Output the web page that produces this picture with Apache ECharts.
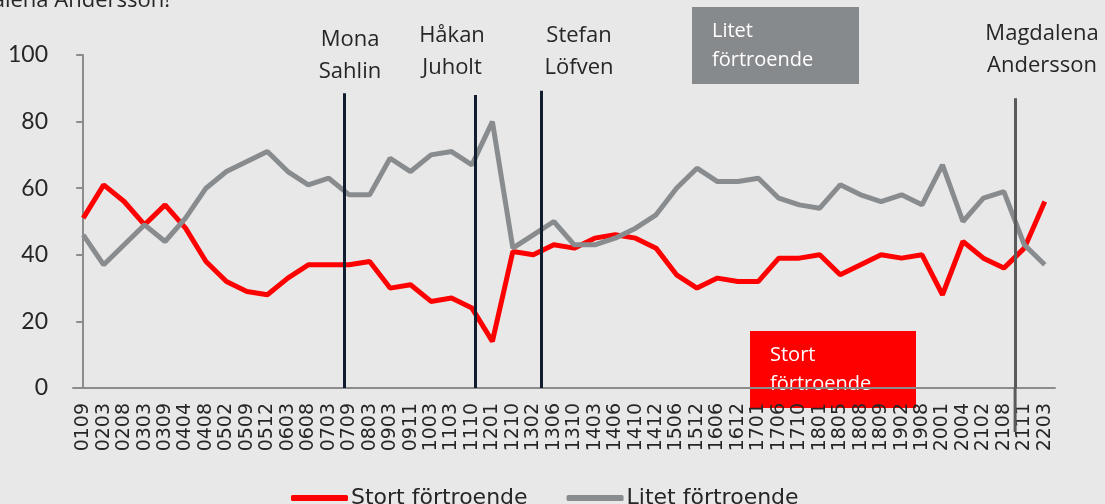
<!DOCTYPE html>
<html>
<head>
<meta charset="utf-8">
<script src="https://cdn.jsdelivr.net/npm/echarts@6/dist/echarts.min.js"></script>
<style>
  html, body { margin: 0; padding: 0; background: #e8e8e8; }
  #chart { width: 1105px; height: 504px; }
</style>
</head>
<body>
<div id="chart"></div>
<script>
// mätperioder (ååmm)
var perioder = ['0109','0203','0208','0303','0309','0404','0408','0502','0509','0512',
  '0603','0608','0703','0709','0803','0903','0911','1003','1103','1110',
  '1201','1210','1302','1306','1310','1403','1406','1410','1412','1506',
  '1512','1606','1612','1701','1706','1710','1801','1805','1808','1809',
  '1902','1908','2001','2004','2102','2108','2111','2203'];

var stort = [51,61,56,49,55,48,38,32,29,28,
  33,37,37,37,38,30,31,26,27,24,
  14,41,40,43,42,45,46,45,42,34,
  30,33,32,32,39,39,40,34,37,40,
  39,40,28,44,39,36,42,56];

var litet = [46,37,43,49,44,51,60,65,68,71,
  65,61,63,58,58,69,65,70,71,67,
  80,42,46,50,43,43,45,48,52,60,
  66,62,62,63,57,55,54,61,58,56,
  58,55,67,50,57,59,43,37];

// partiledarbyten, läge mellan perioder (index)
var byten = [
  { namn: 'Mona\nSahlin', x: 12.75, top: 88.5, farg: '#111d2e' },
  { namn: 'Håkan\nJuholt', x: 19.15, top: 88, farg: '#111d2e' },
  { namn: 'Stefan\nLöfven', x: 22.38, top: 89.3, farg: '#111d2e' },
  { namn: 'Magdalena\nAndersson', x: 45.55, top: 87, farg: '#5a5a5a' }
];

var chart = echarts.init(document.getElementById('chart'));

var markData = byten.map(function (b) {
  return [
    { coord: [b.x, b.top], lineStyle: { color: b.farg } },
    { coord: [b.x, 0] }
  ];
});

var textStyle = { fontFamily: 'Open Sans', fontSize: 22, fill: '#262626', textAlign: 'center', lineHeight: 32 };

chart.setOption({
  backgroundColor: '#e8e8e8',
  animation: false,
  textStyle: { fontFamily: 'DejaVu Sans' },
  grid: { left: 73, right: 50, top: 55, bottom: 116 },
  legend: {
    top: 482,
    left: 286,
    itemWidth: 57,
    itemHeight: 6,
    itemGap: 39,
    icon: 'roundRect',
    textStyle: { fontSize: 22, color: '#262626', fontFamily: 'DejaVu Sans', padding: [0, 0, 0, -2] },
    data: ['Stort förtroende', 'Litet förtroende']
  },
  xAxis: [{
    type: 'category',
    data: perioder,
    boundaryGap: true,
    axisLine: { lineStyle: { color: '#8c8c8c', width: 2 } },
    axisTick: { interval: 0, length: 7, lineStyle: { color: '#8c8c8c', width: 2 } },
    axisLabel: { interval: 0, rotate: 90, fontSize: 19, color: '#262626', margin: 15, fontFamily: 'DejaVu Sans' }
  }, {
    type: 'value',
    min: -0.5,
    max: 47.5,
    show: false
  }],
  yAxis: {
    type: 'value',
    min: 0,
    max: 100,
    interval: 20,
    splitLine: { show: false },
    axisLine: { show: true, lineStyle: { color: '#8c8c8c', width: 2 } },
    axisTick: { show: true, length: 7, lineStyle: { color: '#8c8c8c', width: 2 } },
    axisLabel: { fontSize: 23, color: '#262626', margin: 25, fontFamily: 'Lato' }
  },
  series: [{
    name: 'Stort förtroende',
    type: 'line',
    data: stort,
    symbol: 'none',
    color: '#ff0000',
    lineStyle: { width: 5, color: '#ff0000' },
    z: 2
  }, {
    name: 'Litet förtroende',
    type: 'line',
    data: litet,
    symbol: 'none',
    color: '#898c8e',
    lineStyle: { width: 5, color: '#898c8e' },
    z: 2
  }, {
    name: 'byten',
    type: 'line',
    xAxisIndex: 1,
    data: [],
    clip: false,
    z: 5,
    markLine: {
      silent: true,
      symbol: 'none',
      label: { show: false },
      lineStyle: { type: 'solid', width: 3 },
      data: markData
    }
  }]
});

// Magdalena-linjen fortsätter under x-axeln
var sista = byten[3];
var p0 = chart.convertToPixel({ xAxisIndex: 1, yAxisIndex: 0 }, [sista.x, 0]);

chart.setOption({
  graphic: [
    { type: 'line', z: 10, shape: { x1: p0[0], y1: p0[1], x2: p0[0], y2: p0[1] + 44 }, style: { stroke: sista.farg, lineWidth: 3 } },
    { type: 'text', x: 170, y: 12, z: 10, style: { text: 'Magdalena Andersson!', fontFamily: 'Open Sans', fontSize: 22, fill: '#262626', textAlign: 'right', textVerticalAlign: 'bottom' } },
    { type: 'text', x: 350, y: 24, z: 10, style: Object.assign({ text: byten[0].namn }, textStyle) },
    { type: 'text', x: 452, y: 20, z: 10, style: Object.assign({ text: byten[1].namn }, textStyle) },
    { type: 'text', x: 579, y: 20, z: 10, style: Object.assign({ text: byten[2].namn }, textStyle) },
    { type: 'text', x: 1042, y: 18, z: 10, style: Object.assign({ text: byten[3].namn }, textStyle) },
    { type: 'rect', shape: { x: 692, y: 7, width: 167, height: 77 }, z: 10, style: { fill: '#878a8c' } },
    { type: 'text', x: 712, y: 17, z: 11, style: { text: 'Litet\nförtroende', fontFamily: 'Open Sans', fontSize: 20, lineHeight: 29, fill: '#ffffff' } },
    { type: 'rect', shape: { x: 750, y: 331, width: 166, height: 77 }, z: -3, style: { fill: '#ff0000' } },
    { type: 'text', x: 770, y: 341, z: -2, style: { text: 'Stort\nförtroende', fontFamily: 'Open Sans', fontSize: 20, lineHeight: 29, fill: '#ffffff' } },
    { type: 'rect', shape: { x: 750, y: 393, width: 166, height: 15 }, z: -1, style: { fill: '#ff0000' } }
  ]
});
</script>
</body>
</html>
